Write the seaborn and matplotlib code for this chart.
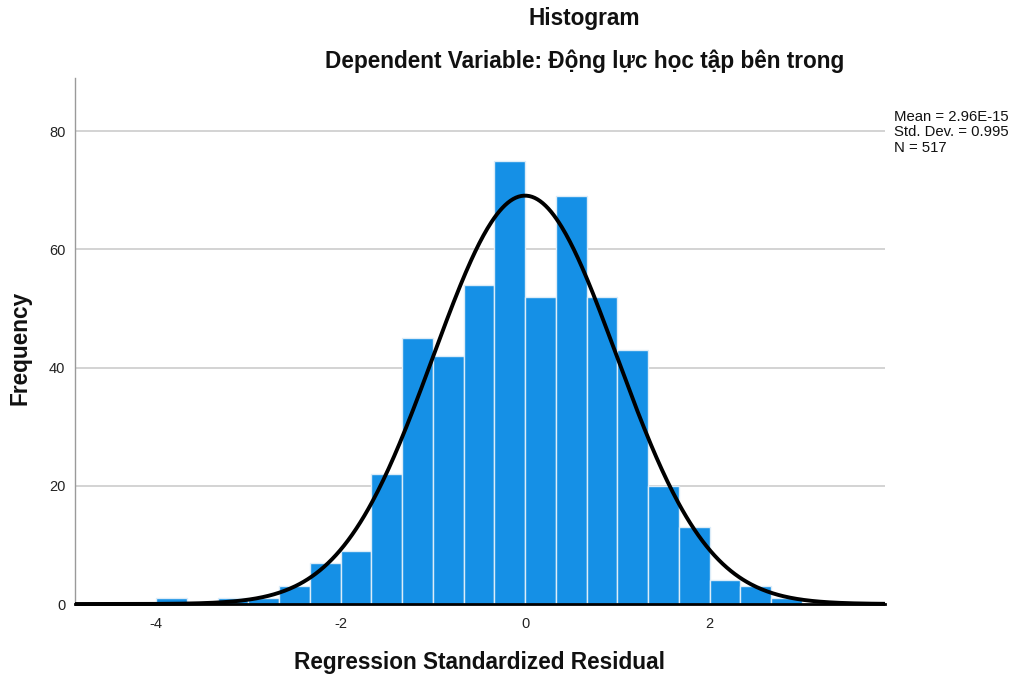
import numpy as np
import pandas as pd
import matplotlib
matplotlib.use("Agg")
import matplotlib.pyplot as plt
import seaborn as sns

# Residual histogram: bin layout and frequency per bin
bin_start = -4.0
bin_width = 1.0 / 3.0
bin_counts = [1, 0, 1, 1, 3, 7, 9, 22, 45, 42, 54, 75, 52, 69, 52, 43, 20, 13, 4, 3, 1]

# Summary statistics of the standardized residuals
resid_mean = 2.96e-15
resid_std = 0.995
resid_n = 517

x_ticks = [-4, -2, 0, 2]
y_ticks = [0, 20, 40, 60, 80]

title_main = "Histogram"
title_sub = "Dependent Variable: Động lực học tập bên trong"
x_label = "Regression Standardized Residual"
y_label = "Frequency"

sns.set_style("white")
plt.rcParams["font.family"] = ["Liberation Sans", "DejaVu Sans"]
plt.rcParams["axes.unicode_minus"] = False

edges = [bin_start + bin_width * i for i in range(len(bin_counts) + 1)]
centers = [(edges[i] + edges[i + 1]) / 2 for i in range(len(bin_counts))]
df = pd.DataFrame({"residual": centers, "count": bin_counts})

fig = plt.figure(figsize=(10.17, 6.82), dpi=100)
ax = fig.add_axes([75 / 1017, 1 - 604 / 682, 810 / 1017, 526 / 682])

sns.histplot(data=df, x="residual", weights="count", bins=edges, ax=ax,
             color="#1590e6", alpha=1.0, edgecolor="#dcecf8", linewidth=1.0,
             zorder=2)

x_min, x_max = -4.878, 3.902
ax.set_xlim(x_min, x_max)
ax.set_ylim(0, 89)

# Normal curve scaled to counts
xs = np.linspace(x_min, x_max, 600)
ys = resid_n * bin_width / (resid_std * np.sqrt(2 * np.pi)) * np.exp(-0.5 * ((xs - resid_mean) / resid_std) ** 2)
ax.plot(xs, ys, color="black", linewidth=2.8, zorder=4, clip_on=False,
        solid_capstyle="butt")

ax.set_xticks(x_ticks)
ax.set_yticks(y_ticks)
ax.tick_params(axis="both", length=0, labelsize=10.5, labelcolor="#222222")
ax.tick_params(axis="x", pad=9)
ax.tick_params(axis="y", pad=7)

for yv in y_ticks[1:]:
    ax.axhline(yv, color="#c8c8c8", linewidth=1.1, zorder=1)

sns.despine(ax=ax, top=True, right=True)
ax.spines["left"].set_color("#9a9a9a")
ax.spines["left"].set_linewidth(1.0)
ax.spines["bottom"].set_color("black")
ax.spines["bottom"].set_linewidth(2.0)

ax.set_xlabel("")
ax.set_ylabel("")

label_size = 16.3
fig.text(584 / 1017, 1 - 18 / 682, title_main, ha="center", va="center",
         fontsize=label_size, fontweight="bold", color="#111111")
fig.text(585 / 1017, 1 - 61 / 682, title_sub, ha="center", va="center",
         fontsize=label_size, fontweight="bold", color="#111111")
fig.text(480 / 1017, 1 - 662 / 682, x_label, ha="center", va="center",
         fontsize=label_size, fontweight="bold", color="#111111")
fig.text(20 / 1017, 1 - 348 / 682, y_label, ha="center", va="center",
         rotation=90, fontsize=label_size, fontweight="bold", color="#111111")

stats_text = (f"Mean = {resid_mean:.2E}\n"
              f"Std. Dev. = {resid_std:.3f}\n"
              f"N = {resid_n}")
fig.text(894 / 1017, 1 - 110 / 682, stats_text, ha="left", va="top",
         fontsize=10.7, color="#111111", linespacing=1.12)

fig.savefig("out.png", dpi=100)
